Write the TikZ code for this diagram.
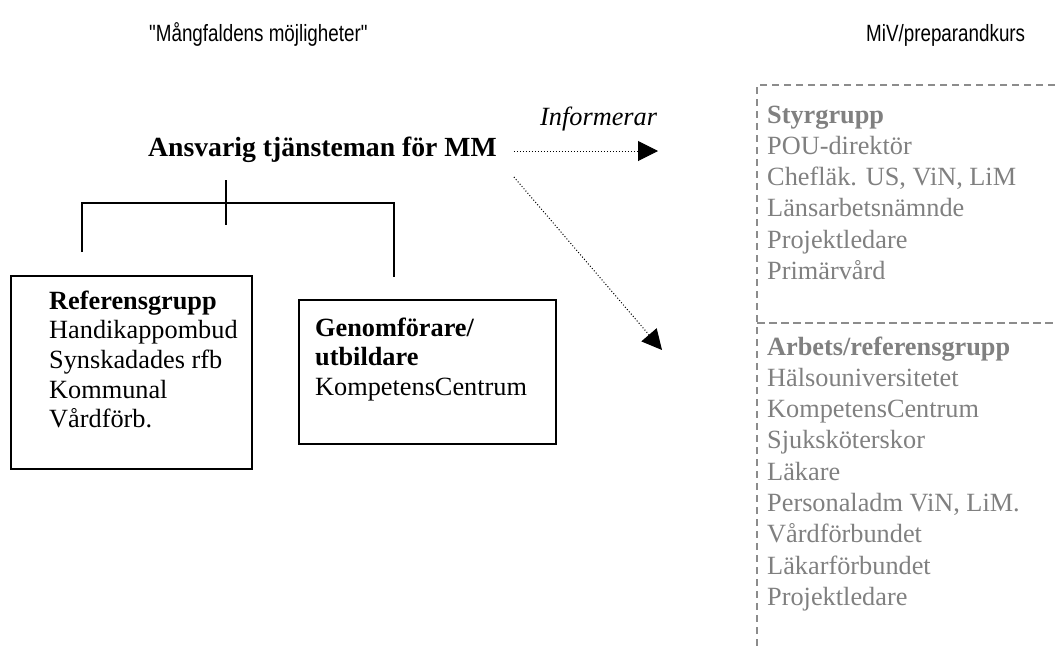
\documentclass[tikz,border=0pt]{standalone}
\usepackage{fontspec}
\setmainfont{Liberation Serif}
\newfontfamily\headfont{Liberation Sans}
\usetikzlibrary{arrows.meta}
\definecolor{softgray}{HTML}{808080}
\definecolor{dashgray}{HTML}{8C8C8C}
\newcommand{\tallhead}[1]{\scalebox{0.96}[1.2]{#1}}
\begin{document}
\begin{tikzpicture}[x=1pt,y=-1pt,
  heading/.style={inner sep=0pt, anchor=base west, font=\headfont\fontsize{19.6}{22}\selectfont},
  bodytext/.style={inner sep=0pt, anchor=base west, font=\fontsize{26.3}{29.7}\selectfont},
  greytext/.style={bodytext, text=softgray, font=\fontsize{26.3}{31.3}\selectfont},
  groupbox/.style={draw, line width=2pt, inner sep=0pt},
  treeline/.style={line width=1.5pt},
  infoarrow/.style={dotted, line width=1pt, -{Triangle[length=20pt,width=20pt]}},
  sepline/.style={dashgray, line width=2pt, dash pattern=on 7pt off 5pt},
]
\useasboundingbox (0,0) rectangle (1055,648);

% headings
\node[heading] (hleft) at (149,41) {\tallhead{"Mångfaldens möjligheter"}};
\node[heading] (hright) at (866,41) {\tallhead{MiV/preparandkurs}};

% responsible official
\node[bodytext, font=\bfseries\fontsize{27.7}{31}\selectfont] (ansv) at (148,156) {Ansvarig tjänsteman för MM};
\node[bodytext, font=\itshape\fontsize{26.3}{29.7}\selectfont] (info) at (540,125) {Informerar};

% org tree
\coordinate (stemtop) at (226,180);
\coordinate (stembot) at (226,225);
\coordinate (barL) at (82,203);
\coordinate (barR) at (394,203);
\coordinate (legL) at (82,252);
\coordinate (legR) at (394,277);
\draw[treeline] (stemtop) -- (stembot);
\draw[treeline] (legL) -- (barL) -- (barR) -- (legR);

% group boxes
\node[groupbox, anchor=north west, minimum width=241pt, minimum height=193pt] (refbox) at (10,275) {};
\node[groupbox, anchor=north west, minimum width=257pt, minimum height=144pt] (genbox) at (298,299) {};

\node[bodytext] (reftext) at (49,309) {\begin{tabular}[t]{@{}l@{}}
\textbf{Referensgrupp}\\ Handikappombud\\ Synskadades rfb\\ Kommunal\\ Vårdförb.\end{tabular}};
\node[bodytext] (gentext) at (315,336) {\begin{tabular}[t]{@{}l@{}}
\textbf{Genomförare/}\\ \textbf{utbildare}\\ KompetensCentrum\end{tabular}};

% dashed frame of the course organisation
\coordinate (frameTL) at (757,85);
\coordinate (frameTR) at (1055,85);
\coordinate (frameBL) at (757,648);
\coordinate (midL) at (757,323);
\coordinate (midR) at (1055,323);
\draw[sepline, line width=1.5pt] (frameTR) -- (frameTL) -- (frameBL);
\draw[sepline, line width=2.5pt, dash pattern=on 8pt off 4pt] (midL) -- (midR);

\node[greytext] (styr) at (767,123) {\begin{tabular}[t]{@{}l@{}}
\textbf{Styrgrupp}\\ POU-direktör\\ Chefläk. US, ViN, LiM\\ Länsarbetsnämnde\\ Projektledare\\ Primärvård\end{tabular}};
\node[greytext] (arb) at (767,355) {\begin{tabular}[t]{@{}l@{}}
\textbf{Arbets/referensgrupp}\\ Hälsouniversitetet\\ KompetensCentrum\\ Sjuksköterskor\\ Läkare\\ Personaladm ViN, LiM.\\ Vårdförbundet\\ Läkarförbundet\\ Projektledare\end{tabular}};

% information arrows
\coordinate (tipA) at (658,151);
\coordinate (tipB) at (662,350);
\draw[infoarrow] ([xshift=17pt,yshift=5pt]ansv.base east) -- (tipA);
\draw[infoarrow] ([xshift=17pt,yshift=-21pt]ansv.base east) -- (tipB);
\end{tikzpicture}
\end{document}
